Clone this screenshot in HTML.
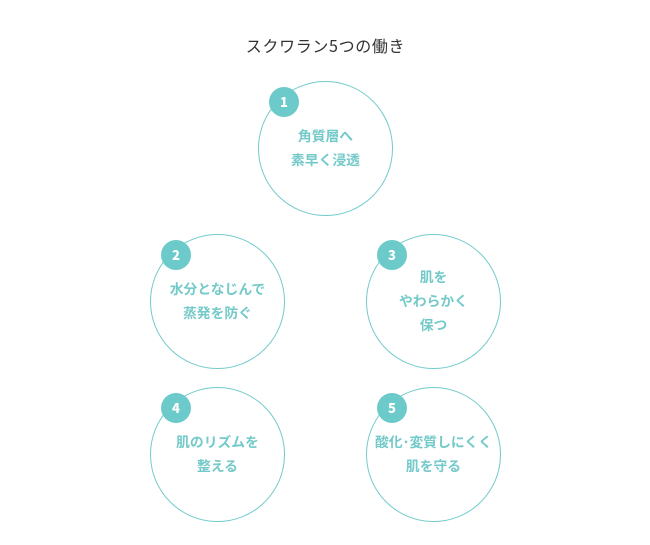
<!DOCTYPE html>
<html lang="ja">
<head>
<meta charset="utf-8">
<style>
html,body{margin:0;padding:0;background:#fff;}
#p{position:relative;width:650px;height:545px;overflow:hidden;font-family:"Liberation Sans","Noto Sans CJK JP",sans-serif;}
svg{position:absolute;left:0;top:0;}
.t{position:absolute;text-align:center;font-family:"Noto Sans CJK JP",sans-serif;white-space:nowrap;}
.l{font-size:13.8px;font-weight:700;color:#74c9c9;line-height:24px;width:134px;}
.n{font-size:13px;font-weight:900;color:#fff;width:30px;line-height:30px;}
</style>
</head>
<body>
<div id="p">
<svg width="650" height="545" viewBox="0 0 650 545">
<g fill="#fff" stroke="#74cbcb" stroke-width="1">
<circle cx="325.5" cy="148.5" r="67"/>
<circle cx="217.5" cy="301.5" r="67"/>
<circle cx="433.5" cy="301.5" r="67"/>
<circle cx="217.5" cy="454.5" r="67"/>
<circle cx="433.5" cy="454.5" r="67"/>
</g>
<g fill="#6ccaca">
<circle cx="284" cy="102" r="15"/>
<circle cx="176" cy="255" r="15"/>
<circle cx="392" cy="255" r="15"/>
<circle cx="176" cy="408" r="15"/>
<circle cx="392" cy="408" r="15"/>
</g>
</svg>
<div class="t" style="left:225.5px;top:33px;width:200px;font-size:16px;line-height:24px;color:#333;letter-spacing:.65px;">スクワラン5つの働き</div>
<div class="t n" style="left:269px;top:87px;">1</div>
<div class="t n" style="left:161px;top:240px;">2</div>
<div class="t n" style="left:377px;top:240px;">3</div>
<div class="t n" style="left:161px;top:393px;">4</div>
<div class="t n" style="left:377px;top:393px;">5</div>
<div class="t l" style="left:258.5px;top:123px;">角質層へ<br>素早く浸透</div>
<div class="t l" style="left:150.5px;top:276px;">水分となじんで<br>蒸発を防ぐ</div>
<div class="t l" style="left:366.5px;top:264px;">肌を<br>やわらかく<br>保つ</div>
<div class="t l" style="left:150.5px;top:429px;">肌のリズムを<br>整える</div>
<div class="t l" style="left:366.5px;top:429px;">酸化･変質しにくく<br>肌を守る</div>
</div>
</body>
</html>
